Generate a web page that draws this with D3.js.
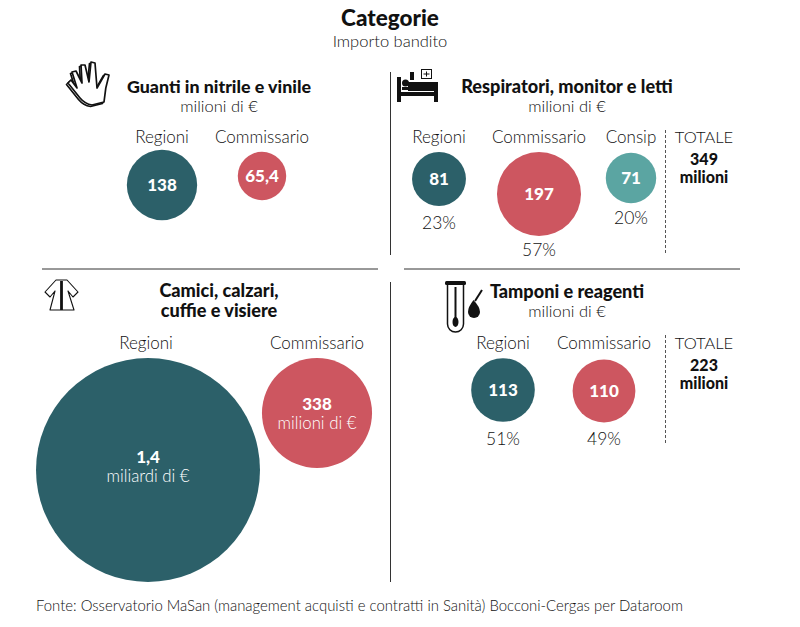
<!DOCTYPE html>
<html><head><meta charset="utf-8">
<script src="https://cdn.jsdelivr.net/npm/d3@7"></script>
<style>
html,body{margin:0;padding:0;background:#fff}
svg{display:block}
text{font-family:Lato,"Open Sans",sans-serif}
</style></head><body><svg id="c" width="800" height="627"></svg>
<script>
const panelTitles=[["Guanti in nitrile e vinile"],["Respiratori, monitor e letti"],["Camici, calzari,","cuffie e visiere"],["Tamponi e reagenti"]];
const panelUnits=["milioni di €","milioni di €",null,"milioni di €"];
const entities=[["Regioni","Commissario"],["Regioni","Commissario","Consip"],["Regioni","Commissario"],["Regioni","Commissario"]];
const values=[[138,65.4],[81,197,71],[1400,338],[113,110]];
const valueLabels=[["138","65,4"],["81","197","71"],["1,4","338"],["113","110"]];
const valueSubs=[[null,null],[null,null,null],["miliardi di €","milioni di €"],[null,null]];
const shares=[null,["23%","57%","20%"],null,["51%","49%"]];
const totals=[null,"349",null,"223"];
const colors={Regioni:"#2c6069",Commissario:"#cd5660",Consip:"#5ba5a2"};

const svg=d3.select("#c");
const r=d3.scaleSqrt().domain([0,1400]).range([0,112]);
const ink="#111", soft="#111";
function t(x,y,s,size,weight,fill,anchor){
  return svg.append("text").attr("x",x).attr("y",y).attr("font-size",size).attr("font-weight",weight||300)
    .attr("fill",fill||soft).attr("text-anchor",anchor||"middle").text(s);
}
t(390,26,"Categorie",22.5,900,ink);
t(390,47,"Importo bandito",16.5,300,soft);

[[390.5,72,390.5,255],[390.5,282,390.5,582],[42,269,378,269],[404,269,740,269]].forEach(l=>
  svg.append("line").attr("x1",l[0]).attr("y1",l[1]).attr("x2",l[2]).attr("y2",l[3]).attr("stroke","#333").attr("stroke-width",1));
svg.append("line").attr("x1",665.5).attr("y1",130).attr("x2",665.5).attr("y2",255).attr("stroke","#555").attr("stroke-dasharray","3 2");
svg.append("line").attr("x1",665.5).attr("y1",335).attr("x2",665.5).attr("y2",445).attr("stroke","#555").attr("stroke-dasharray","3 2");

const layout=[
 {tx:219,ty:93,ts:17.8,ux:219,uy:112,cx:[162,262],cy:[185,176],lx:[162,262],ly:143},
 {tx:567,ty:93,ts:18.1,ux:567,uy:112,cx:[439,539,631],cy:[179,194,178],lx:[439,539,631],ly:143,sy:[229,256,224]},
 {tx:219,ty:297,ts:18.1,cx:[148,317],cy:[470,413],lx:[146,317],ly:349,vy:[463,410]},
 {tx:567,ty:298,ts:18.1,ux:567,uy:317,cx:[503,604],cy:[390,391],lx:[503,604],ly:349,sy:[445,445]}
];
layout.forEach((L,i)=>{
  panelTitles[i].forEach((s,j)=>t(L.tx,L.ty+j*20,s,L.ts,900,ink));
  if(panelUnits[i]) t(L.ux,L.uy,panelUnits[i],16.5,300,soft);
  values[i].forEach((v,j)=>{
    const cx=L.cx[j],cy=L.cy[j];
    svg.append("circle").attr("cx",cx).attr("cy",cy).attr("r",r(v)).attr("fill",colors[entities[i][j]]);
    t(L.lx[j],L.ly,entities[i][j],17,300,soft);
    const sub=valueSubs[i][j];
    t(cx,sub?L.vy[j]:cy+6,valueLabels[i][j],17,900,"#fff");
    if(sub) t(cx,L.vy[j]+19,sub,16.8,300,"#fff");
    if(shares[i]) t(cx,L.sy[j],shares[i][j],17.5,300,soft);
  });
  if(totals[i]){
    const y=i===1?143:349;
    t(704,y,"TOTALE",16.5,300,soft);
    t(704,y+22,totals[i],16,900,ink);
    t(704,y+40,"milioni",16,900,ink);
  }
});
t(36,611,"Fonte: Osservatorio MaSan (management acquisti e contratti in Sanità) Bocconi-Cergas per Dataroom",14.9,300,soft,"start");

// Icons
const hand="M92 105 L104 102 Q105 88 109 75 L105 74 L97 88 L95 63 L91 62 L89 82 L85 65 L81 65 L82 83 L76 71 L72 72 L77 88 L71 80 L68 83 L80 98 Q85 104 92 105 Z";
const glove=svg.append("g").attr("fill","#fff").attr("stroke","#111").attr("stroke-width",1.7).attr("stroke-linejoin","round");
glove.append("path").attr("d",hand).attr("transform","translate(-1.5,1.5)");
glove.append("path").attr("d",hand);
const bed=svg.append("g").attr("fill","#111");
bed.append("rect").attr("x",397).attr("y",77).attr("width",4).attr("height",25);
bed.append("rect").attr("x",434).attr("y",82).attr("width",4).attr("height",20);
bed.append("rect").attr("x",401).attr("y",92).attr("width",33).attr("height",4);
bed.append("rect").attr("x",408).attr("y",82).attr("width",26).attr("height",9);
bed.append("rect").attr("x",402).attr("y",87).attr("width",8).attr("height",3);
bed.append("circle").attr("cx",405.5).attr("cy",83).attr("r",3.5);
bed.append("rect").attr("x",410).attr("y",72).attr("width",4).attr("height",8);
bed.append("rect").attr("x",421.5).attr("y",69.5).attr("width",10).attr("height",9).attr("fill","#fff").attr("stroke","#111");
bed.append("path").attr("d","M423.5 74 H429.5 M426.5 71.5 V76.5").attr("stroke","#111").attr("fill","none");
const coat=svg.append("g").attr("fill","#fff").attr("stroke","#111").attr("stroke-width",1.1).attr("stroke-linejoin","round");
coat.append("path").attr("d","M56 280 L45 292 L50 297 L55 291 L50 310 L74 310 L68 291 L73 297 L78 292 L67 280 Z");
coat.append("line").attr("x1",61.5).attr("y1",281).attr("x2",61.5).attr("y2",310).attr("stroke-width",2.8);
const tube=svg.append("g");
tube.append("rect").attr("x",445).attr("y",281).attr("width",21).attr("height",4).attr("rx",1.5).attr("fill","#111");
tube.append("path").attr("d","M447.5 284 V324 A8 8 0 0 0 463.5 324 V284").attr("fill","none").attr("stroke","#111").attr("stroke-width",1.5);
tube.append("line").attr("x1",455.5).attr("y1",287).attr("x2",455.5).attr("y2",318).attr("stroke","#111").attr("stroke-width",2);
tube.append("ellipse").attr("cx",455.5).attr("cy",322).attr("rx",3).attr("ry",5).attr("fill","#111");
tube.append("path").attr("d","M473.5 300 Q480 307 480 312 A6 6 0 0 1 468 312 Q468 307 473.5 300Z").attr("fill","#111");
tube.append("line").attr("x1",475).attr("y1",301).attr("x2",482).attr("y2",290).attr("stroke","#111").attr("stroke-width",2);
</script></body></html>
